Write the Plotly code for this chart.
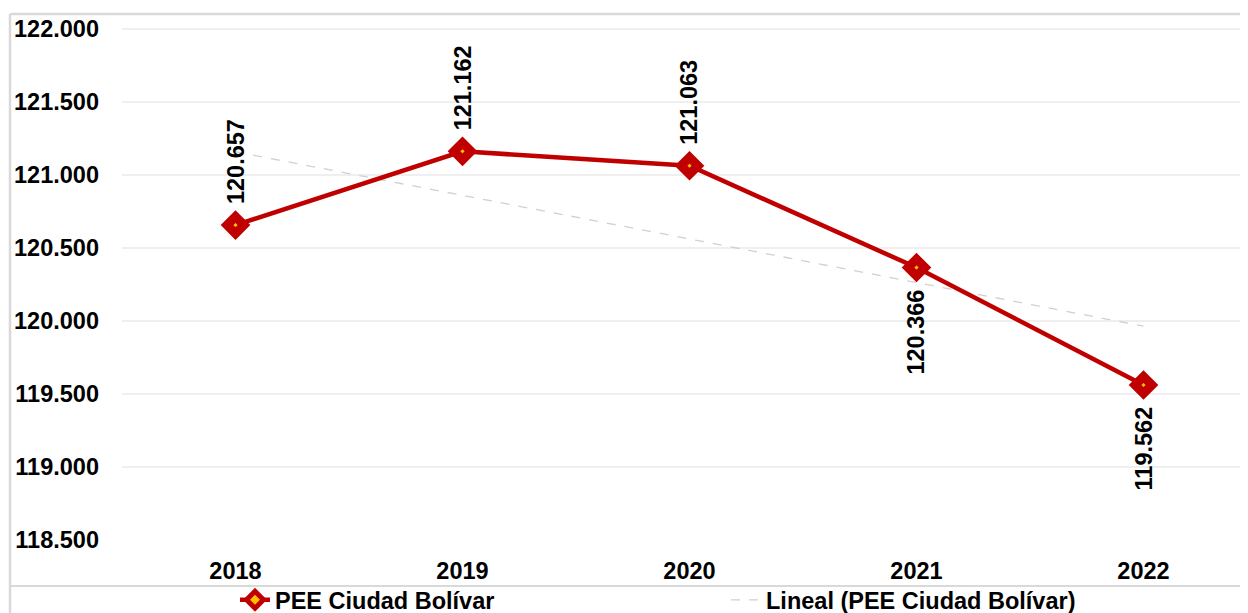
import numpy as np
import plotly.graph_objects as go

years = ["2018", "2019", "2020", "2021", "2022"]
values = [120657, 121162, 121063, 120366, 119562]
label_side = ["above", "above", "above", "below", "below"]
series_name = "PEE Ciudad Bolívar"
trend_name = "Lineal (PEE Ciudad Bolívar)"
y_ticks = [118500, 119000, 119500, 120000, 120500, 121000, 121500, 122000]

xs = np.arange(len(years))
slope, intercept = np.polyfit(xs, values, 1)
trend = slope * xs + intercept

FONT = "Arial, Liberation Sans, sans-serif"
RED = "#C00000"
FS = 23.5

# page body has an 8px margin; work in reference pixel coordinates
OFF = 8
W, H = 1248 - OFF, 613 - OFF
PLOT_LEFT, PLOT_TOP, PLOT_BOTTOM = 122, 22, 540   # reference coords
L = PLOT_LEFT - OFF
T = PLOT_TOP - OFF
B = H - (PLOT_BOTTOM - OFF)
plot_h = PLOT_BOTTOM - PLOT_TOP
plot_w = 1248 - PLOT_LEFT

def px_x(p):
    return (p - PLOT_LEFT) / plot_w

def px_y(p):
    return (PLOT_BOTTOM - p) / plot_h

def cx(p):
    return (p - OFF) / W

def cy(p):
    return 1 - (p - OFF) / H

fig = go.Figure()
fig.add_trace(go.Scatter(
    x=xs, y=trend, mode="lines", name=trend_name,
    line=dict(color="#D0D0D0", width=1.3, dash="dash"),
    legend="legend2", hoverinfo="skip"))
fig.add_trace(go.Scatter(
    x=xs, y=values, mode="lines+markers", name=series_name,
    line=dict(color=RED, width=4.5),
    marker=dict(symbol="diamond", size=13, color="#FFC000",
                line=dict(color=RED, width=9)),
    legend="legend"))

for x, v, side in zip(xs, values, label_side):
    txt = f"{v:,}".replace(",", ".")
    fig.add_annotation(
        x=x, y=v, text=txt, textangle=-90, showarrow=False,
        xanchor="center",
        yanchor="bottom" if side == "above" else "top",
        yshift=19 if side == "above" else -20,
        font=dict(family=FONT, size=FS, color="#000000", weight="bold"))

# outer chart border (light gray)
fig.add_shape(type="line", xref="paper", yref="paper",
              x0=px_x(10), x1=px_x(1260), y0=px_y(14), y1=px_y(14),
              line=dict(color="#D9D9D9", width=2.5))
fig.add_shape(type="line", xref="paper", yref="paper",
              x0=px_x(10), x1=px_x(10), y0=px_y(14), y1=px_y(620),
              line=dict(color="#D9D9D9", width=2.5))
fig.add_shape(type="line", xref="paper", yref="paper",
              x0=px_x(10), x1=px_x(1260), y0=px_y(586), y1=px_y(586),
              line=dict(color="#D9D9D9", width=2))

legend_font = dict(family=FONT, size=FS, color="#000000", weight="bold")
fig.update_layout(
    width=W, height=H,
    margin=dict(l=L, r=0, t=T, b=B, pad=0, autoexpand=False),
    paper_bgcolor="white", plot_bgcolor="white",
    separators=",.",
    font=dict(family=FONT, size=FS, color="#000000", weight="bold"),
    showlegend=True,
    legend=dict(orientation="h", xref="container", yref="container",
                x=cx(235), xanchor="left", y=cy(600), yanchor="middle",
                font=legend_font, bgcolor="rgba(0,0,0,0)"),
    legend2=dict(orientation="h", xref="container", yref="container",
                 x=cx(726), xanchor="left", y=cy(600), yanchor="middle",
                 font=legend_font, bgcolor="rgba(0,0,0,0)"),
    xaxis=dict(
        range=[-0.5, -0.5 + plot_w / 227.0],
        tickvals=list(xs), ticktext=years, automargin=False,
        showgrid=False, zeroline=False, showline=False,
        ticks="", ticklabelstandoff=14,
        tickfont=dict(family=FONT, size=FS, color="#000000", weight="bold")),
    yaxis=dict(
        range=[118500, 118500 + plot_h / 146.0 * 1000],
        tickvals=y_ticks, tickformat=",d", automargin=False,
        showgrid=True, gridcolor="#EFEFEF", gridwidth=1.5,
        zeroline=False, showline=False, ticks="",
        ticklabelstandoff=22,
        tickfont=dict(family=FONT, size=FS, color="#000000", weight="bold")),
)

fig.write_html("out.html")
